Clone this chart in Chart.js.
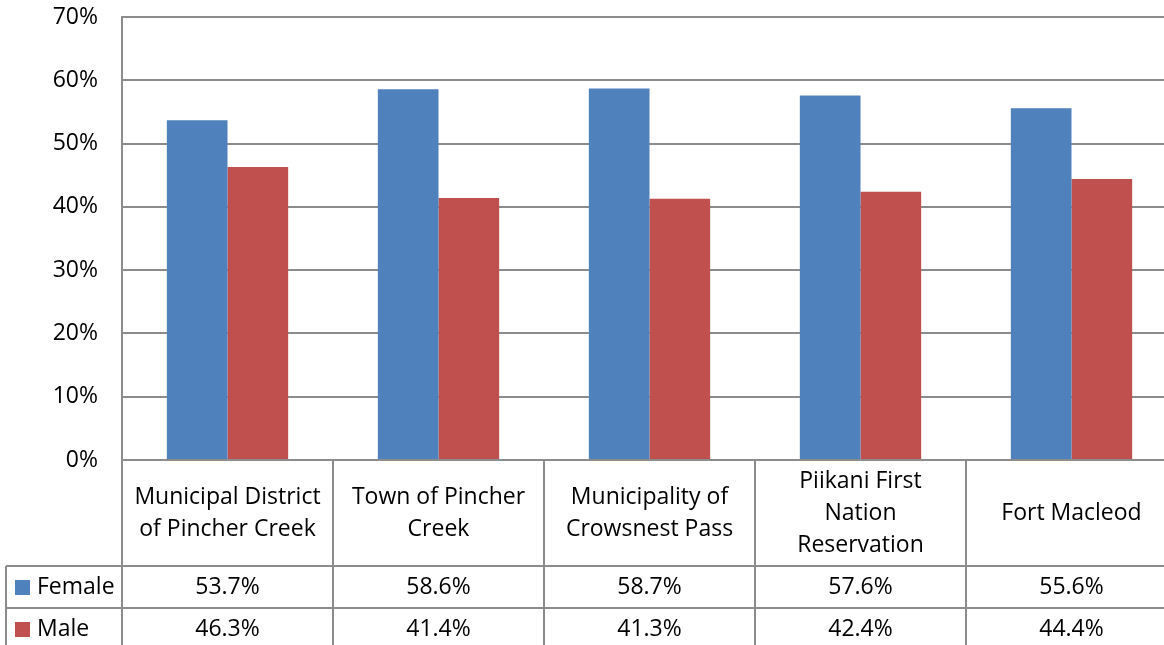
<!DOCTYPE html>
<html><head><meta charset="utf-8">
<script src="https://cdn.jsdelivr.net/npm/chart.js@4"></script>
<style>html,body{margin:0;padding:0;background:#fff;overflow:hidden}#wrap{width:1164px;height:645px;overflow:hidden}</style>
</head><body><div id="wrap"><canvas id="c" width="1180" height="645"></canvas></div>
<script>
const categories = [
  ["Municipal District", "of Pincher Creek"],
  ["Town of Pincher", "Creek"],
  ["Municipality of", "Crowsnest Pass"],
  ["Piikani First", "Nation", "Reservation"],
  ["Fort Macleod"]
];
const seriesNames = ["Female", "Male"];
const female = [53.7, 58.6, 58.7, 57.6, 55.6];
const male = [46.3, 41.4, 41.3, 42.4, 44.4];
const colors = ["#4F81BD", "#C0504D"];

const FONT = '"Open Sans", "Liberation Sans", sans-serif';
const LINE = '#8c8c8c';

const tablePlugin = {
  id: 'dataTable',
  afterDraw(chart) {
    const ctx = chart.ctx;
    const area = chart.chartArea;
    const x = chart.scales.x;
    const n = categories.length;
    const colW = (area.right - area.left) / n;
    const top = area.bottom;
    const hdrBottom = top + 106;
    const row1Bottom = hdrBottom + 42;
    const row2Bottom = chart.height + 2;
    const tableLeft = 6;
    ctx.save();
    ctx.strokeStyle = LINE;
    ctx.lineWidth = 2;
    ctx.beginPath();
    for (let i = 0; i <= n; i++) {
      const xx = Math.round(area.left + i * colW);
      ctx.moveTo(xx, top); ctx.lineTo(xx, row2Bottom);
    }
    ctx.moveTo(tableLeft, hdrBottom); ctx.lineTo(tableLeft, row2Bottom);
    ctx.moveTo(tableLeft, hdrBottom); ctx.lineTo(area.right, hdrBottom);
    ctx.moveTo(tableLeft, row1Bottom); ctx.lineTo(area.right, row1Bottom);
    ctx.moveTo(area.left, top); ctx.lineTo(area.right, top);
    ctx.stroke();

    ctx.fillStyle = '#000';
    ctx.font = '23px ' + FONT;
    ctx.textAlign = 'center';
    ctx.textBaseline = 'middle';
    const lh = 32;
    categories.forEach((lines, i) => {
      const cx = x.getPixelForValue(i);
      const cy = (top + hdrBottom) / 2;
      const start = cy - (lines.length - 1) * lh / 2;
      lines.forEach((ln, j) => ctx.fillText(ln, cx, start + j * lh));
    });
    const rows = [female, male];
    const rowCenters = [(hdrBottom + row1Bottom) / 2, row1Bottom + 21];
    rows.forEach((vals, r) => {
      ctx.textAlign = 'center';
      vals.forEach((v, i) => {
        ctx.fillText(v.toFixed(1) + '%', x.getPixelForValue(i), rowCenters[r]);
      });
      ctx.fillStyle = colors[r];
      ctx.fillRect(15, Math.round(rowCenters[r] - 7.5), 15, 15);
      ctx.fillStyle = '#000';
      ctx.textAlign = 'left';
      ctx.fillText(seriesNames[r], 37, rowCenters[r]);
    });
    ctx.restore();
  }
};

new Chart(document.getElementById('c'), {
  type: 'bar',
  data: {
    labels: categories,
    datasets: [
      { label: seriesNames[0], data: female, backgroundColor: colors[0] },
      { label: seriesNames[1], data: male, backgroundColor: colors[1] }
    ]
  },
  options: {
    responsive: false,
    animation: false,
    devicePixelRatio: 1,
    layout: { padding: { top: 17, bottom: 185, left: 0, right: 3 } },
    plugins: { legend: { display: false }, tooltip: { enabled: false } },
    datasets: { bar: { categoryPercentage: 0.575, barPercentage: 1.0 } },
    scales: {
      x: { display: false },
      y: {
        min: 0, max: 70,
        ticks: { stepSize: 10, color: '#000', padding: 24, font: { family: FONT, size: 23 },
          callback: v => v + '%' },
        grid: { color: LINE, lineWidth: 2, drawTicks: false },
        border: { color: LINE, width: 2 },
        afterFit(s) { s.width = 122; s.paddingTop = 0; s.paddingBottom = 0; }
      }
    }
  },
  plugins: [tablePlugin]
});
</script>
</body></html>
